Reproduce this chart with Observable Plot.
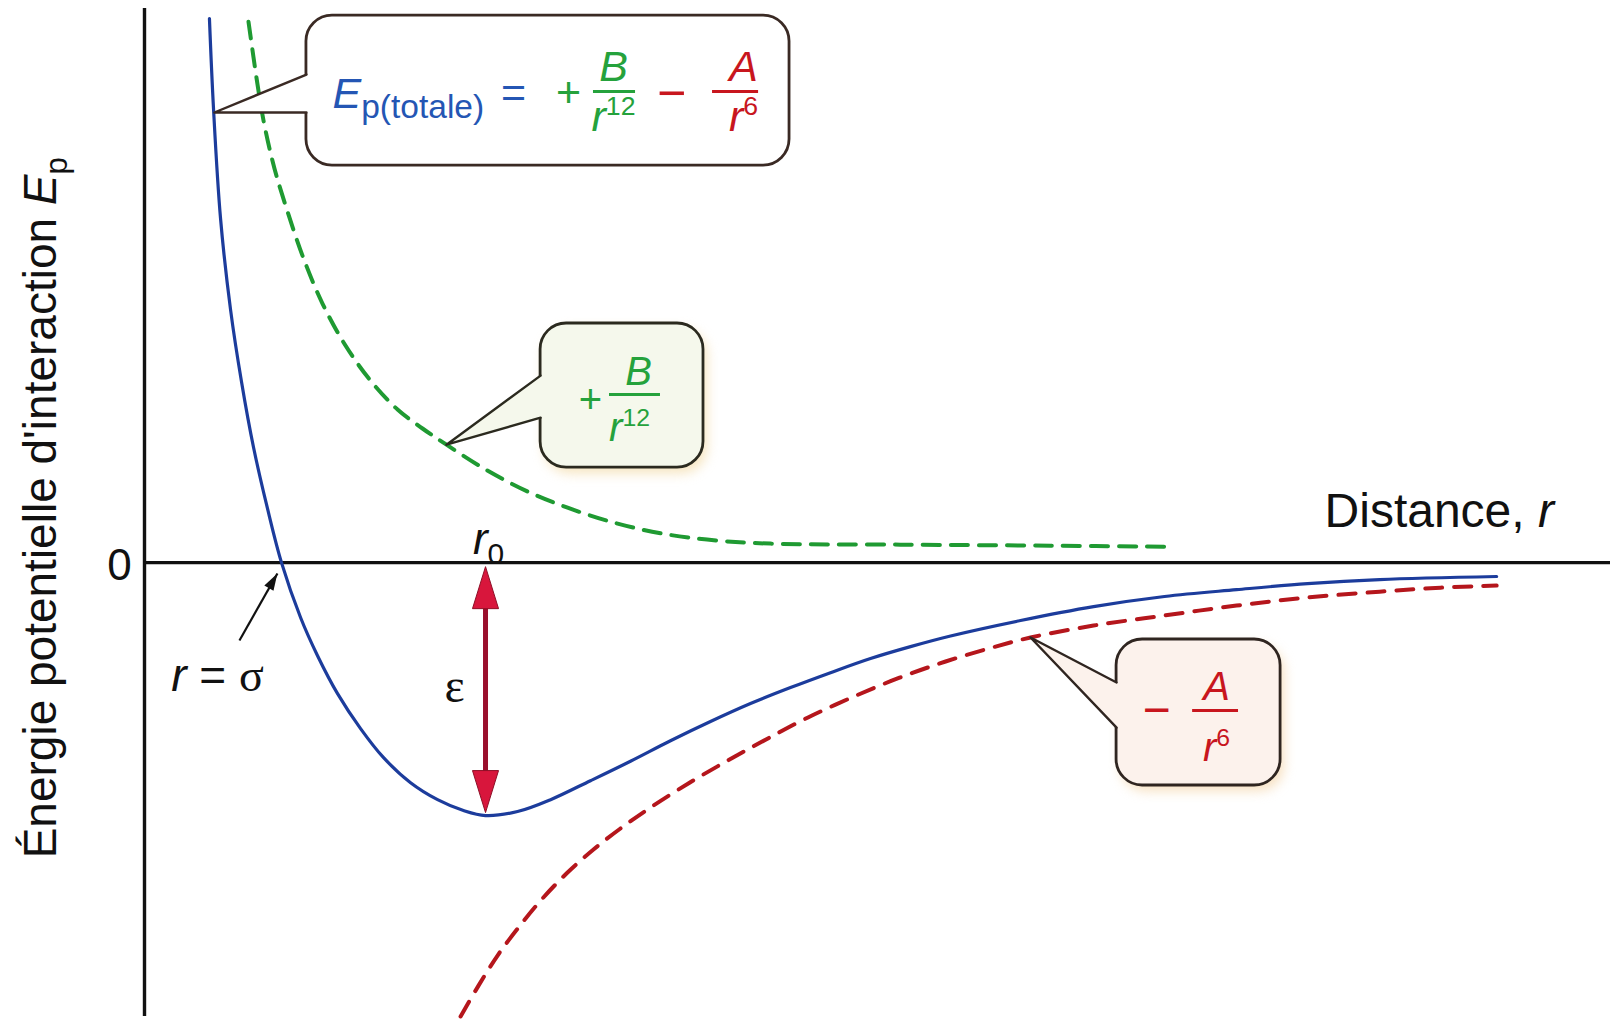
<!DOCTYPE html>
<html>
<head>
<meta charset="utf-8">
<script src="https://cdn.jsdelivr.net/npm/d3@7"></script>
<script src="https://cdn.jsdelivr.net/npm/@observablehq/plot@0.6"></script>
<style>
  html, body { margin: 0; padding: 0; background: #ffffff; }
  #chart svg { display: block; }
</style>
</head>
<body>
<div id="chart"></div>
<script>
// Lennard-Jones style interaction energy.
// Distance r is expressed in units of σ, energy in units of the well depth ε.

// Total potential energy (solid blue)
const rTotal = [0.474, 0.504, 0.555, 0.628, 0.708, 0.796, 0.898, 1.000, 1.139, 1.263, 1.409, 1.577,
  1.745, 1.942, 2.139, 2.328, 2.489, 2.723, 2.964, 3.255, 3.547, 3.839, 4.131, 4.423, 4.715,
  5.007, 5.299, 5.591, 5.883, 6.394, 6.927, 7.445, 7.971, 8.489, 9.015, 9.869];
const eTotal = [2.150, 1.791, 1.360, 1.000, 0.715, 0.455, 0.213, 0.000, -0.217, -0.368, -0.518, -0.656,
  -0.771, -0.870, -0.937, -0.980, -1.000, -0.984, -0.937, -0.862, -0.785, -0.704, -0.628, -0.557, -0.494,
  -0.435, -0.379, -0.332, -0.290, -0.229, -0.174, -0.134, -0.107, -0.083, -0.067, -0.055];

// Repulsive term +B/r^12 (dashed green)
const rRepulsive = [0.759, 0.825, 0.876, 0.949, 1.044, 1.161, 1.299, 1.467, 1.650, 1.847, 2.029, 2.204,
  2.489, 2.796, 3.088, 3.453, 3.818, 4.182, 4.569, 5.518, 6.613, 7.460];
const eRepulsive = [2.138, 1.889, 1.727, 1.557, 1.387, 1.202, 1.024, 0.858, 0.719, 0.605, 0.530, 0.466,
  0.368, 0.281, 0.217, 0.154, 0.111, 0.087, 0.075, 0.071, 0.067, 0.063];

// Attractive term -A/r^6 (dashed red)
const rAttractive = [2.307, 2.438, 2.577, 2.723, 2.891, 3.080, 3.277, 3.474, 3.693, 3.978, 4.255, 4.533,
  4.839, 5.175, 5.511, 5.847, 6.212, 6.467, 6.927, 7.445, 7.971, 8.489, 9.015, 9.460, 9.869];
const eAttractive = [-1.794, -1.672, -1.553, -1.447, -1.336, -1.229, -1.134, -1.051, -0.968, -0.870, -0.783, -0.700,
  -0.613, -0.530, -0.455, -0.391, -0.332, -0.296, -0.249, -0.209, -0.170, -0.138, -0.115, -0.099, -0.091];

// Characteristic values
const sigma = 1.0;      // r where E = 0
const r0 = 2.489;       // r at the minimum
const depth = -1.0;     // E at the minimum (−ε)

const toPoints = (rs, es) => rs.map((r, i) => ({r, E: es[i]}));
const total = toPoints(rTotal, eTotal);
const repulsive = toPoints(rRepulsive, eRepulsive);
const attractive = toPoints(rAttractive, eAttractive);

const sans = "'Liberation Sans', Arial, Helvetica, sans-serif";
const serif = "'Liberation Serif', 'Times New Roman', serif";

const BLUE = "#1c3c9c", BLUE_TXT = "#2456b4";
const GREEN = "#1f9a32", GREEN_TXT = "#25a23c";
const RED = "#b5161c", RED_TXT = "#c8161e";
const INK = "#111111";

// Rich labels: plain text -> styled pieces
const richParts = {
  "Énergie potentielle d'interaction Ep": [["Énergie potentielle d'interaction "], ["E", "i"], ["p", "sub"]],
  "Distance, r": [["Distance, "], ["r", "i"]],
  "r0": [["r", "i"], ["0", "sub"]],
  "r = σ": [["r", "i"], [" = "], ["σ", "serif"]],
  "Ep(totale)": [["E", "i"], ["p(totale)", "bigsub"]],
  "r12": [["r", "i"], ["12", "sup"]],
  "r6": [["r", "i"], ["6", "sup"]]
};

function label(text, r, E, o = {}) {
  return Plot.text([{r, E, text}], {
    x: "r", y: "E", text: "text",
    fill: o.color ?? INK,
    fontSize: o.size ?? 44,
    fontStyle: o.italic ? "italic" : "normal",
    fontFamily: o.serif ? serif : sans,
    textAnchor: o.anchor ?? "middle",
    lineAnchor: "middle",
    rotate: o.rotate ?? 0
  });
}

// Filled arrow tip: the anchor point is the tip, the body extends downward
const tipSymbol = {
  draw(ctx, size) {
    const s = Math.sqrt(size / Math.PI);
    ctx.moveTo(0, 0);
    ctx.lineTo(0.31 * s, s);
    ctx.lineTo(-0.31 * s, s);
    ctx.closePath();
  }
};

// Speech-bubble callout: rounded body plus a pointed tail
function callout(b) {
  const inside = 0.06;
  const poly = [
    {r: b.tail.edge, E: b.tail.upper},
    {r: b.tail.tip[0], E: b.tail.tip[1]},
    {r: b.tail.edge, E: b.tail.lower},
    {r: b.tail.edge + inside, E: b.tail.lower},
    {r: b.tail.edge + inside, E: b.tail.upper}
  ];
  const edge = [
    {r: b.tail.edge, E: b.tail.upper},
    {r: b.tail.tip[0], E: b.tail.tip[1]},
    {r: b.tail.edge, E: b.tail.lower}
  ];
  const marks = [];
  if (b.halo) {
    marks.push(Plot.rect([b], {x1: "r1", x2: "r2", y1: "E1", y2: "E2", rx: 26, dx: 4, dy: 6,
      fill: b.halo, fillOpacity: 0.55, ariaDescription: "halo"}));
  }
  marks.push(
    Plot.rect([b], {x1: "r1", x2: "r2", y1: "E1", y2: "E2", rx: 26,
      fill: b.fill, stroke: b.stroke, strokeWidth: 2.8}),
    Plot.line(poly, {x: "r", y: "E", fill: b.fill, stroke: "none", curve: "linear-closed"}),
    Plot.line(edge, {x: "r", y: "E", stroke: b.stroke, strokeWidth: 2.4, curve: "linear"})
  );
  return marks;
}

const boxTotal = {r1: 1.182, r2: 4.708, E1: 1.569, E2: 2.162, fill: "#ffffff", stroke: "#3a2a24",
  tail: {tip: [0.51, 1.779], edge: 1.182, upper: 1.929, lower: 1.779}};
const boxRep = {r1: 2.891, r2: 4.080, E1: 0.375, E2: 0.945, fill: "#f5f8ec", stroke: "#2b2a1f", halo: "#efd08c",
  tail: {tip: [2.204, 0.466], edge: 2.891, upper: 0.739, lower: 0.573}};
const boxAtt = {r1: 7.095, r2: 8.292, E1: -0.881, E2: -0.304, fill: "#fcf2ec", stroke: "#2f2520", halo: "#f0c98f",
  tail: {tip: [6.467, -0.296], edge: 7.095, upper: -0.474, lower: -0.652}};

const greenBars = [{a: 3.277, b: 3.584, E: 1.862}, {a: 3.394, b: 3.766, E: 0.664}];
const redBars = [{a: 4.146, b: 4.482, E: 1.862}, {a: 7.650, b: 7.985, E: -0.585}];

const chart = Plot.plot({
  width: 1618,
  height: 1019,
  marginLeft: 144,
  marginRight: 8,
  marginTop: 8,
  marginBottom: 3,
  x: {domain: [0, 10.7], axis: null},
  y: {domain: [-1.794, 2.19], axis: null},
  style: {background: "#ffffff", fontFamily: sans},
  marks: [
    // axes
    Plot.ruleY([0], {stroke: INK, strokeWidth: 3.4}),
    Plot.ruleX([0], {stroke: INK, strokeWidth: 3.4}),

    // curves
    Plot.line(repulsive, {x: "r", y: "E", stroke: GREEN, strokeWidth: 4, strokeDasharray: "17,11", curve: "catmull-rom"}),
    Plot.line(attractive, {x: "r", y: "E", stroke: RED, strokeWidth: 4, strokeDasharray: "17,12", curve: "catmull-rom"}),
    Plot.line(total, {x: "r", y: "E", stroke: BLUE, strokeWidth: 3.2, curve: "catmull-rom"}),

    // well depth ε at r0
    Plot.ruleX([r0], {y1: -0.15, y2: depth + 0.15, stroke: "#9a0f2c", strokeWidth: 5}),
    Plot.dot([{r: r0, E: -0.016, a: 0}, {r: r0, E: depth + 0.012, a: 180}], {
      x: "r", y: "E", rotate: "a", symbol: tipSymbol, r: 42,
      fill: "#d8163c", stroke: "#8e0e26", strokeWidth: 1
    }),

    // pointer to r = σ
    Plot.link([{a: [0.693, -0.308], b: [sigma - 0.03, -0.043]}], {
      x1: d => d.a[0], y1: d => d.a[1], x2: d => d.b[0], y2: d => d.b[1],
      stroke: INK, strokeWidth: 2.2
    }),
    Plot.dot([{r: sigma - 0.03, E: -0.043}], {x: "r", y: "E", symbol: tipSymbol, r: 17, rotate: 30, fill: INK}),

    // callouts
    callout(boxTotal),
    callout(boxRep),
    callout(boxAtt),

    // fraction bars
    Plot.ruleY(greenBars, {y: "E", x1: "a", x2: "b", stroke: GREEN_TXT, strokeWidth: 3}),
    Plot.ruleY(redBars, {y: "E", x1: "a", x2: "b", stroke: RED_TXT, strokeWidth: 3}),

    // axis texts
    label("Énergie potentielle d'interaction Ep", -0.752, 0.217, {size: 46, rotate: -90}),
    label("0", -0.182, -0.012, {size: 44}),
    label("Distance, r", 8.613, 0.202, {size: 48, anchor: "start"}),
    label("r0", 2.511, 0.091, {size: 44}),
    label("ε", 2.263, -0.490, {size: 48, serif: true}),
    label("r = σ", 0.533, -0.451, {size: 46}),

    // total energy formula
    label("Ep(totale)", 1.372, 1.850, {size: 43, color: BLUE_TXT, anchor: "start"}),
    label("=", 2.693, 1.854, {size: 43, color: BLUE_TXT}),
    label("+", 3.095, 1.854, {size: 43, color: GREEN_TXT}),
    label("B", 3.423, 1.959, {size: 43, color: GREEN_TXT, italic: true}),
    label("r12", 3.423, 1.762, {size: 43, color: GREEN_TXT}),
    label("−", 3.847, 1.854, {size: 50, color: RED_TXT}),
    label("A", 4.372, 1.959, {size: 43, color: RED_TXT, italic: true}),
    label("r6", 4.372, 1.762, {size: 43, color: RED_TXT}),

    // repulsive term
    label("+", 3.255, 0.640, {size: 40, color: GREEN_TXT}),
    label("B", 3.606, 0.752, {size: 40, color: GREEN_TXT, italic: true}),
    label("r12", 3.540, 0.533, {size: 40, color: GREEN_TXT}),

    // attractive term
    label("−", 7.387, -0.585, {size: 48, color: RED_TXT}),
    label("A", 7.825, -0.493, {size: 40, color: RED_TXT, italic: true}),
    label("r6", 7.825, -0.732, {size: 40, color: RED_TXT})
  ]
});

document.getElementById("chart").appendChild(chart);

// Soft glow behind the coloured callouts
chart.querySelectorAll('[aria-description="halo"]').forEach(g => { g.style.filter = "blur(6px)"; });

// Turn plain labels into italic / subscript / superscript pieces
const ns = "http://www.w3.org/2000/svg";
chart.querySelectorAll("text").forEach(t => {
  const parts = richParts[t.textContent];
  if (!parts) return;
  const base = parseFloat(getComputedStyle(t).fontSize) || 44;
  t.textContent = "";
  let shift = 0;
  for (const [s, kind] of parts) {
    const ts = document.createElementNS(ns, "tspan");
    ts.textContent = s;
    let target = 0;
    if (kind === "i") ts.setAttribute("font-style", "italic");
    if (kind === "serif") ts.setAttribute("font-family", serif);
    if (kind === "sub") { ts.setAttribute("font-size", base * 0.68); target = base * 0.24; }
    if (kind === "bigsub") { ts.setAttribute("font-size", base * 0.78); target = base * 0.22; }
    if (kind === "sup") { ts.setAttribute("font-size", base * 0.62); target = -base * 0.36; }
    if (target !== shift) { ts.setAttribute("dy", target - shift); shift = target; }
    t.appendChild(ts);
  }
});
</script>
</body>
</html>
